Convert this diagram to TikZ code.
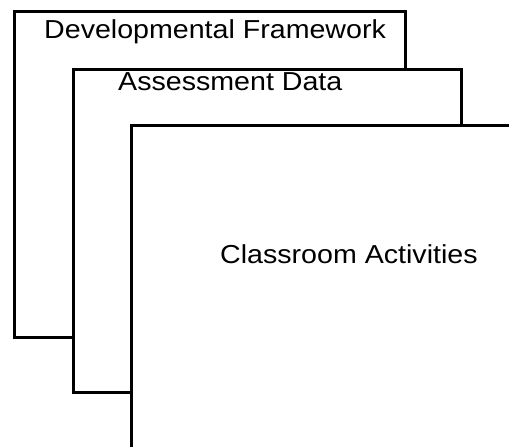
\documentclass[tikz,border=0pt]{standalone}
\usepackage{fontspec}
\setmainfont[FakeStretch=1.1]{Liberation Sans}
\usetikzlibrary{positioning}

\begin{document}
\begin{tikzpicture}[
  x=1pt, y=-1pt,
  frame/.style={draw, line width=3pt, fill=white, anchor=north west, inner sep=0pt, outer sep=0pt,
                minimum width=391pt, minimum height=326pt},
  title/.style={font=\fontsize{26}{31}\selectfont, anchor=base west, inner sep=0pt},
]
\useasboundingbox (0,0) rectangle (509,447);
\clip (0,0) rectangle (509,447);

% ====== Back frame ======
\node[frame] (dev) at (14.5, 11) {};
\node[title] (devtxt) at (44, 38.3) {Developmental Framework};

% ====== Middle frame ======
\node[frame, minimum width=388pt, minimum height=323pt] (data) at (73, 69.5) {};
\node[title] (datatxt) at (118, 90.5) {Assessment Data};

% ====== Front frame ======
\node[frame, minimum width=400pt, minimum height=340pt] (act) at (131, 125.5) {};
\node[title] (acttxt) at (220, 263) {Classroom Activities};

\end{tikzpicture}
\end{document}
